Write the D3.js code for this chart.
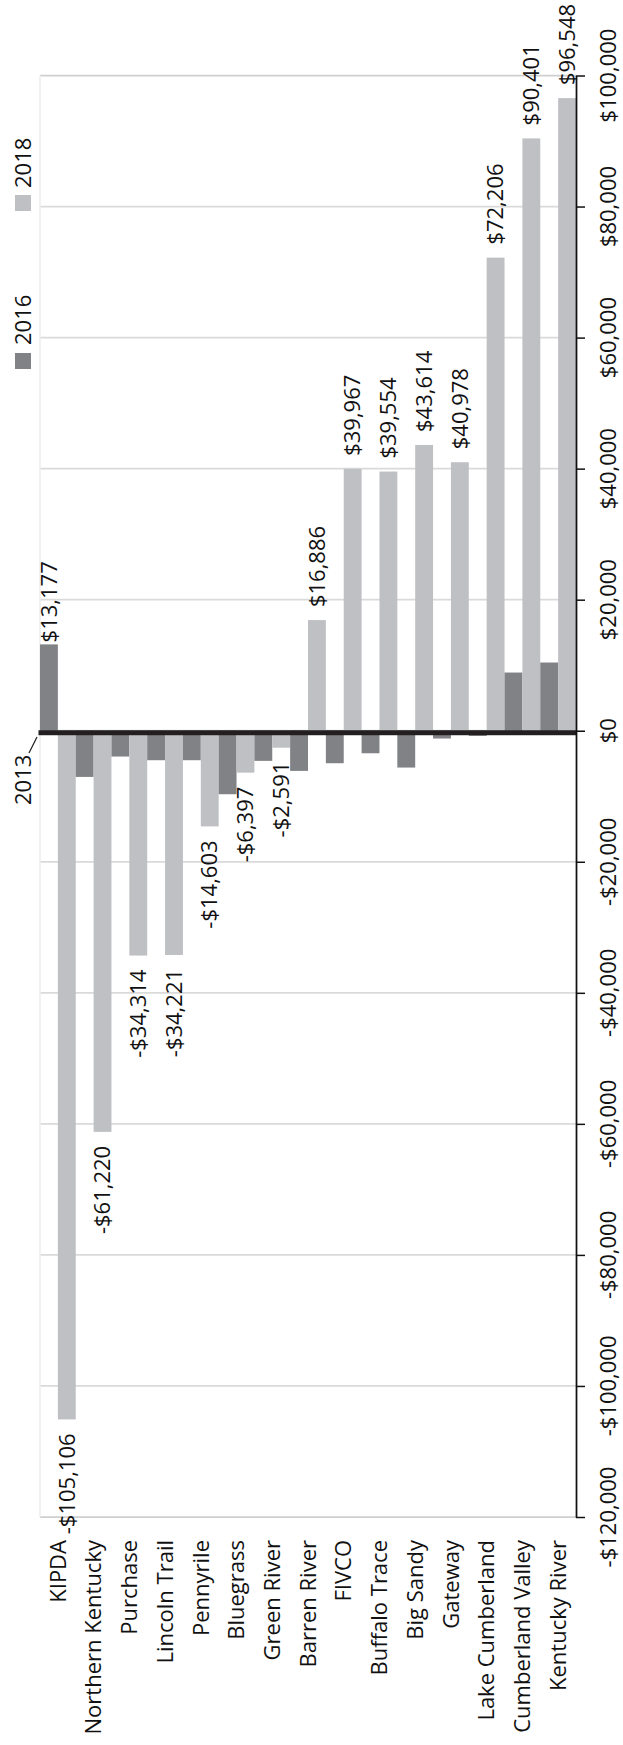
<!DOCTYPE html>
<html>
<head>
<meta charset="utf-8">
<script src="https://cdn.jsdelivr.net/npm/d3@7"></script>
<style>
  html, body { margin: 0; padding: 0; background: #fff; }
  svg { display: block; }
  text { font-family: "Open Sans", "Noto Sans", sans-serif; font-size: 22px; fill: #111; }
</style>
</head>
<body>
<svg id="chart" width="623" height="1745"></svg>
<script>
// Area development districts, change in funding by year
const categories = ["KIPDA", "Northern Kentucky", "Purchase", "Lincoln Trail", "Pennyrile",
  "Bluegrass", "Green River", "Barren River", "FIVCO", "Buffalo Trace", "Big Sandy",
  "Gateway", "Lake Cumberland", "Cumberland Valley", "Kentucky River"];

const seriesNames = ["2016", "2018"];
const baselineSeries = "2013";

const values2016 = [13177, -7050, -3940, -4500, -4500, -9690, -4600, -6130, -4960,
  -3440, -5620, -1190, -790, 8880, 10410];

const values2018 = [-105106, -61220, -34314, -34221, -14603, -6397, -2591, 16886, 39967,
  39554, 43614, 40978, 72206, 90401, 96548];

// only one 2016 bar carries a value label
const labeled2016 = ["KIPDA"];

const tickValues = [-120000, -100000, -80000, -60000, -40000, -20000, 0,
  20000, 40000, 60000, 80000, 100000];

const colors = { "2016": "#818286", "2018": "#bfc0c4" };

const fmt = v => (v < 0 ? "-" : "") + "$" + d3.format(",")(Math.abs(v));

const svg = d3.select("#chart");

const plotLeft = 40, plotRight = 576, plotTop = 75.5, plotBottom = 1517;

const x = d3.scaleBand().domain(categories).range([plotLeft, plotRight]).padding(0);
const xs = d3.scaleBand().domain(seriesNames).range([0, x.bandwidth()]).padding(0);
const y = d3.scaleLinear().domain([-120000, 100000]).range([plotBottom, plotTop]);

// gridlines
svg.append("g").selectAll("line").data(tickValues).join("line")
  .attr("x1", plotLeft).attr("x2", plotRight)
  .attr("y1", d => y(d)).attr("y2", d => y(d))
  .attr("stroke", (d, i) => (i === 0 || i === tickValues.length - 1) ? "#cfcfcf" : "#dadada")
  .attr("stroke-width", 1.75);

// plot area left edge
svg.append("line")
  .attr("x1", plotLeft).attr("x2", plotLeft)
  .attr("y1", plotTop).attr("y2", plotBottom)
  .attr("stroke", "#ececec").attr("stroke-width", 1.5);

const rows = categories.map((c, i) => ({ cat: c, "2016": values2016[i], "2018": values2018[i] }));

// bars
const barData = [];
rows.forEach(r => seriesNames.forEach(s => barData.push({ cat: r.cat, series: s, value: r[s] })));

svg.append("g").selectAll("rect").data(barData).join("rect")
  .attr("x", d => x(d.cat) + xs(d.series))
  .attr("width", xs.bandwidth())
  .attr("y", d => Math.min(y(d.value), y(0)))
  .attr("height", d => Math.abs(y(d.value) - y(0)))
  .attr("fill", d => colors[d.series]);

// 2013 baseline drawn as a heavy rule along zero
svg.append("rect")
  .attr("x", plotLeft - 1.5)
  .attr("width", plotRight - plotLeft + 1.5)
  .attr("y", y(0) - 0.5)
  .attr("height", 5)
  .attr("fill", "#231f20");

// value axis
const axis = d3.axisRight(y).tickValues(tickValues).tickSize(9).tickSizeOuter(0).tickFormat("");
const gAxis = svg.append("g").attr("transform", `translate(${plotRight},0)`).call(axis);
gAxis.select(".domain").attr("stroke", "#111").attr("stroke-width", 1.75);
gAxis.selectAll(".tick line").attr("stroke", "#111").attr("stroke-width", 1.5);

svg.append("g").selectAll("text").data(tickValues).join("text")
  .attr("transform", d => `translate(608,${y(d)}) rotate(-90)`)
  .attr("text-anchor", "middle")
  .attr("dy", "0.35em")
  .text(fmt);

// category labels
svg.append("g").selectAll("text").data(categories).join("text")
  .attr("transform", d => `translate(${x(d) + x.bandwidth() / 2},1540) rotate(-90)`)
  .attr("text-anchor", "end")
  .attr("dy", "0.35em")
  .text(d => d);

// value labels
function placeLabel(sel, gapPos, gapNeg) {
  sel.attr("transform", d => {
      const cx = x(d.cat) + xs(d.series) + xs.bandwidth() / 2;
      const yy = d.value >= 0 ? y(d.value) - gapPos : y(d.value) + gapNeg;
      return `translate(${cx},${yy}) rotate(-90)`;
    })
    .attr("text-anchor", d => d.value >= 0 ? "start" : "end")
    .attr("dy", "0.35em")
    .text(d => fmt(d.value));
}

svg.append("g").selectAll("text")
  .data(barData.filter(d => d.series === "2018")).join("text")
  .call(placeLabel, 13, 14);

svg.append("g").selectAll("text")
  .data(barData.filter(d => d.series === "2016" && labeled2016.includes(d.cat))).join("text")
  .call(placeLabel, 2, 2);

// legend
const legend = [
  { name: "2016", textBottom: 345, boxTop: 353 },
  { name: "2018", textBottom: 188, boxTop: 195 }
];
const lg = svg.append("g").selectAll("g").data(legend).join("g");
lg.append("rect")
  .attr("x", 15).attr("width", 16)
  .attr("y", d => d.boxTop).attr("height", 16)
  .attr("fill", d => colors[d.name]);
lg.append("text")
  .attr("transform", d => `translate(23,${d.textBottom}) rotate(-90)`)
  .attr("text-anchor", "start")
  .attr("dy", "0.35em")
  .text(d => d.name);

// 2013 label with leader to the baseline
svg.append("line")
  .attr("x1", 29).attr("y1", 753)
  .attr("x2", 37).attr("y2", 737)
  .attr("stroke", "#222").attr("stroke-width", 1.3);
svg.append("text")
  .attr("transform", "translate(23.5,805) rotate(-90)")
  .attr("text-anchor", "start")
  .attr("dy", "0.35em")
  .text(baselineSeries);
</script>
</body>
</html>
